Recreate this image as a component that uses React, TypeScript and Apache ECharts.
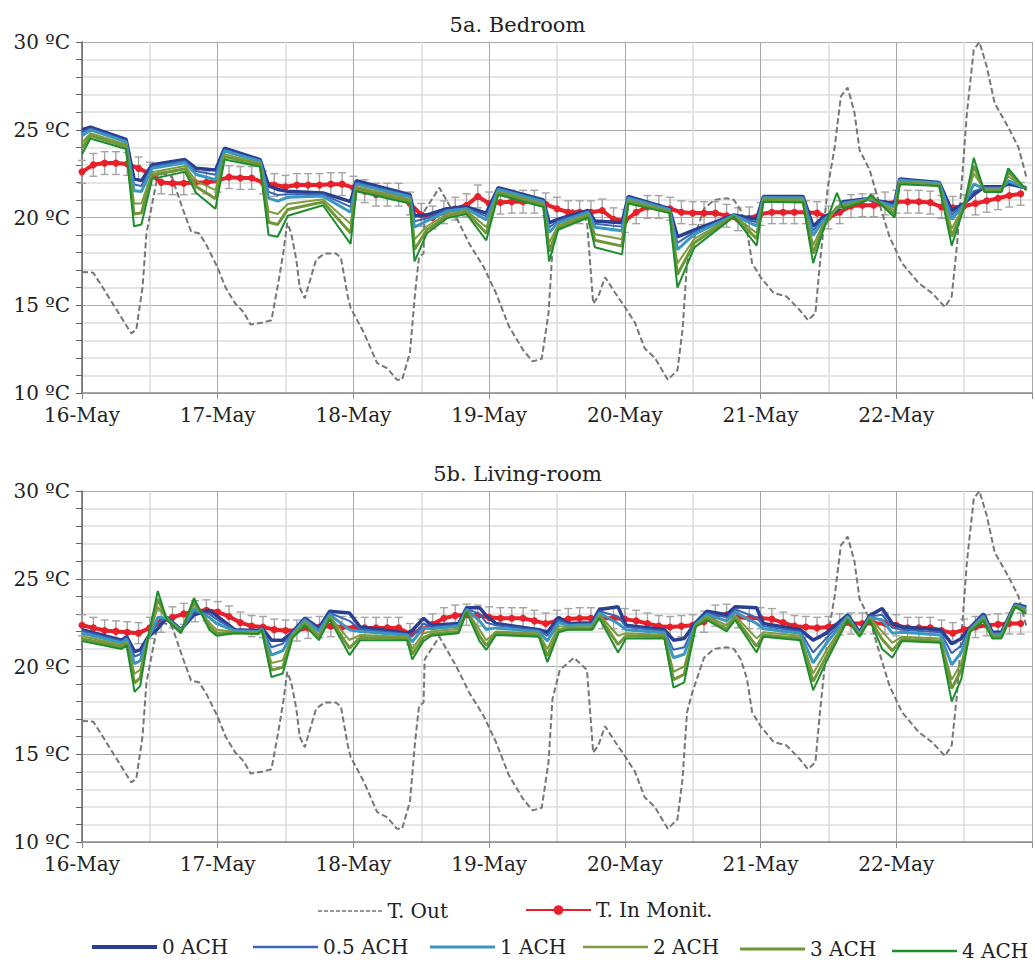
import React, { useEffect, useRef } from 'react';
import * as echarts from 'echarts';

const FONT = 'DejaVu Serif';

const DAY_LABELS = ['16-May', '17-May', '18-May', '19-May', '20-May', '21-May', '22-May'];
const ACH_NAMES = ['0 ACH', '0.5 ACH', '1 ACH', '2 ACH', '3 ACH', '4 ACH'];
const ACH_COLORS = ['#2b3f91', '#3c64b4', '#3a98c0', '#7e9c3e', '#6f9637', '#1f8c30'];
const ACH_WIDTHS = [3.5, 2, 3, 2, 3, 2];

// Outdoor temperature (hours from 16-May 00:00)
const TOUT_H = [0, 2, 3.2, 6, 8.7, 9.6, 10.7, 11.4, 13.5, 15.9, 17.8, 19.3, 20.7, 21.9, 23.9, 25.4, 27.1, 28.6, 29.8, 31.8, 33.5, 34.7, 35.6, 36.3, 37, 37.9, 38.5, 39.4, 41.4, 42.9, 44.9, 45.8, 47, 47.5, 49.9, 52.2, 54, 55.7, 56.6, 58, 58.9, 59.6, 60.4, 60.6, 63.2, 66.2, 68.5, 71, 73.2, 75.5, 78, 79.7, 81.3, 82.5, 83.2, 84.5, 87, 89.3, 90.4, 91.3, 92.5, 94.3, 96, 97.8, 99.5, 101.3, 103.6, 105.3, 106.2, 107, 107.9, 110, 111.8, 114, 115.3, 116.5, 117.6, 118.5, 120, 122.3, 124.6, 127, 128.4, 129.7, 130.5, 131.9, 133.1, 134.2, 135.4, 136.6, 137.5, 139.3, 141, 142.8, 145, 148, 150.3, 152.6, 153.8, 154.7, 155.6, 156.5, 157.7, 158.7, 160, 161.4, 163.8, 165.6, 167];
const TOUT_V = [16.9, 16.85, 16.25, 14.8, 13.4, 13.6, 16.0, 19.1, 22.6, 22.3, 20.5, 19.2, 19.1, 18.5, 17.2, 16.0, 15.1, 14.6, 13.9, 14.0, 14.15, 16.25, 18.0, 19.7, 19.1, 17.6, 16.0, 15.4, 17.6, 17.95, 17.95, 17.7, 15.5, 14.85, 13.4, 11.7, 11.4, 10.75, 10.75, 12.3, 15.7, 17.75, 17.95, 20.4, 21.7, 20.0, 18.5, 17.2, 15.7, 13.8, 12.45, 11.8, 11.95, 14.55, 18.15, 19.8, 20.5, 19.8, 15.1, 15.5, 16.6, 15.7, 14.9, 14.0, 12.55, 12.0, 10.75, 11.3, 13.6, 17.4, 18.5, 20.5, 21.0, 21.1, 21.0, 20.4, 19.3, 17.4, 16.6, 15.7, 15.5, 14.7, 14.15, 14.55, 17.4, 21.75, 24.0, 26.9, 27.4, 26.0, 23.85, 22.7, 20.8, 18.9, 17.4, 16.25, 15.7, 14.9, 15.5, 18.3, 22.1, 26.0, 29.55, 30.0, 28.6, 26.5, 25.15, 24.0, 22.3];

// Monitored indoor temperature, every 2 hours
const IN_H = Array.from({ length: 84 }, (_, i) => i * 2);
const BED_IN = [22.6, 23.0, 23.1, 23.1, 23.05, 22.8, 22.5, 22.0, 21.95, 21.95, 22.0, 22.0, 22.1, 22.3, 22.25, 22.25, 22.0, 21.85, 21.75, 21.85, 21.85, 21.85, 21.9, 21.9, 21.7, 21.5, 21.3, 21.3, 21.3, 20.8, 20.15, 20.0, 20.3, 20.5, 20.7, 21.2, 20.8, 20.85, 20.9, 20.9, 20.9, 20.75, 20.5, 20.3, 20.3, 20.3, 20.4, 19.9, 19.8, 20.3, 20.6, 20.6, 20.5, 20.3, 20.25, 20.25, 20.25, 20.1, 19.9, 19.95, 20.2, 20.3, 20.3, 20.3, 20.3, 20.25, 20.0, 20.3, 20.65, 20.7, 20.7, 20.8, 20.9, 20.9, 20.9, 20.85, 20.6, 20.55, 20.65, 20.8, 20.95, 21.1, 21.25, 21.35];
const LIV_IN = [22.35, 22.2, 22.05, 22.0, 21.95, 21.9, 22.2, 22.55, 22.8, 23.0, 23.15, 23.2, 23.1, 22.85, 22.5, 22.3, 22.25, 22.1, 22.05, 22.05, 22.2, 22.25, 22.3, 22.25, 22.2, 22.2, 22.2, 22.2, 22.2, 21.85, 22.1, 22.4, 22.75, 22.9, 22.95, 22.9, 22.8, 22.75, 22.75, 22.75, 22.6, 22.45, 22.6, 22.7, 22.75, 22.75, 22.75, 22.75, 22.7, 22.6, 22.45, 22.3, 22.25, 22.3, 22.35, 22.55, 22.9, 22.95, 22.8, 22.75, 22.75, 22.7, 22.5, 22.3, 22.25, 22.2, 22.25, 22.4, 22.45, 22.45, 22.45, 22.45, 22.35, 22.2, 22.2, 22.2, 22.05, 21.9, 22.1, 22.25, 22.35, 22.4, 22.45, 22.45];
const BED_SD = 0.65;
const LIV_SD = 0.6;

// Bedroom simulations
const BED_H = [0, 1.5, 7.8, 9.2, 10.5, 12.4, 18.2, 20.2, 23.6, 25.2, 31.5, 33.0, 34.6, 36.4, 42.6, 47.5, 48.5, 58.0, 58.8, 61.0, 64.5, 68.0, 71.5, 73.6, 81.6, 82.6, 84.2, 89.5, 90.7, 95.5, 96.6, 103.9, 105.3, 108.3, 115.3, 119.3, 120.5, 127.5, 129.3, 131.0, 133.5, 134.6, 138.6, 139.5, 143.7, 144.6, 151.6, 153.8, 156.0, 157.7, 159.6, 162.6, 163.8, 167];
const BED_ACH0 = [25.0, 25.15, 24.45, 22.2, 22.1, 23.0, 23.3, 22.8, 22.7, 23.95, 23.3, 21.8, 21.6, 21.5, 21.4, 20.9, 22.1, 21.3, 20.1, 20.15, 20.5, 20.6, 20.25, 21.7, 21.0, 19.7, 19.9, 20.4, 19.8, 19.7, 21.2, 20.5, 18.9, 19.3, 20.15, 19.9, 21.2, 21.2, 19.5, 20.0, 20.4, 20.9, 21.05, 21.0, 20.8, 22.2, 22.0, 20.4, 20.8, 21.3, 21.75, 21.75, 21.9, 21.7];
const BED_ACH05 = [24.85, 25.07, 24.38, 21.88, 21.8, 22.9, 23.22, 22.63, 22.44, 23.87, 23.25, 21.46, 21.28, 21.33, 21.32, 20.61, 22.0, 21.24, 19.79, 19.95, 20.42, 20.55, 20.06, 21.65, 20.95, 19.44, 19.8, 20.35, 19.65, 19.48, 21.15, 20.47, 18.55, 19.18, 20.13, 19.72, 21.16, 21.16, 19.25, 19.9, 20.45, 20.85, 21.03, 21.0, 20.7, 22.16, 21.98, 20.16, 20.78, 21.5, 21.7, 21.7, 22.0, 21.68];
const BED_ACH1 = [24.65, 24.99, 24.31, 21.53, 21.48, 22.8, 23.12, 22.45, 22.15, 23.79, 23.2, 21.1, 20.93, 21.15, 21.22, 20.3, 21.9, 21.18, 19.45, 19.8, 20.35, 20.5, 19.86, 21.6, 20.9, 19.15, 19.7, 20.3, 19.45, 19.25, 21.1, 20.44, 18.17, 19.05, 20.12, 19.52, 21.12, 21.11, 18.97, 19.8, 20.5, 20.8, 21.02, 21.05, 20.6, 22.12, 21.95, 19.9, 20.75, 21.9, 21.65, 21.65, 22.1, 21.65];
const BED_ACH2 = [24.25, 24.81, 24.16, 20.8, 20.8, 22.58, 22.94, 22.07, 21.56, 23.61, 23.09, 20.34, 20.2, 20.77, 21.04, 19.65, 21.75, 21.04, 18.75, 19.5, 20.2, 20.4, 19.44, 21.49, 20.79, 18.56, 19.55, 20.19, 19.05, 18.76, 20.99, 20.37, 17.39, 18.78, 20.1, 19.12, 21.04, 21.02, 18.41, 19.58, 20.55, 20.7, 21.0, 21.1, 20.4, 22.04, 21.9, 19.36, 20.7, 22.5, 21.6, 21.6, 22.35, 21.62];
const BED_ACH3 = [23.95, 24.67, 24.04, 20.2, 20.25, 22.41, 22.78, 21.76, 21.07, 23.47, 23.0, 19.73, 19.6, 20.46, 20.88, 19.12, 21.6, 20.93, 18.18, 19.3, 20.07, 20.3, 19.1, 21.4, 20.7, 18.07, 19.42, 20.1, 18.7, 18.37, 20.9, 20.31, 16.75, 18.56, 20.08, 18.79, 20.98, 20.94, 17.95, 19.41, 20.6, 20.6, 20.98, 21.2, 20.2, 21.97, 21.85, 18.92, 20.65, 22.95, 21.5, 21.5, 22.6, 21.58];
const BED_ACH4 = [23.6, 24.5, 23.9, 19.5, 19.6, 22.2, 22.6, 21.4, 20.5, 23.3, 22.9, 19.0, 18.9, 20.1, 20.7, 18.5, 21.5, 20.8, 17.5, 19.1, 19.95, 20.2, 18.7, 21.3, 20.6, 17.5, 19.3, 20.0, 18.3, 17.9, 20.8, 20.25, 16.0, 18.3, 20.05, 18.4, 20.9, 20.85, 17.4, 19.2, 21.4, 20.5, 20.95, 21.3, 20.0, 21.9, 21.8, 18.4, 20.6, 23.4, 21.45, 21.45, 22.8, 21.55];

// Living-room simulations
const LIV_H = [0, 7.0, 7.9, 9.3, 10.3, 11.6, 13.4, 15.0, 17.5, 19.8, 22.5, 23.8, 27.0, 31.2, 31.8, 33.5, 35.5, 37.2, 39.4, 41.9, 43.8, 47.3, 49.2, 57.5, 58.4, 60.4, 61.8, 66.6, 68.0, 70.3, 71.5, 73.2, 80.8, 82.3, 84.3, 86.0, 90.2, 91.5, 94.8, 96.2, 103.0, 104.6, 106.5, 108.5, 110.5, 114.0, 115.5, 119.3, 120.5, 127.0, 129.3, 131.6, 135.4, 137.5, 139.3, 141.5, 143.3, 145.0, 151.8, 153.8, 155.5, 157.0, 159.4, 161.0, 162.6, 165.0, 167];
const LIV_ACH0 = [22.1, 21.5, 21.7, 20.85, 20.95, 21.65, 22.15, 22.8, 22.1, 22.95, 23.2, 22.9, 22.1, 22.05, 22.2, 21.5, 21.5, 21.95, 22.75, 22.2, 23.15, 23.05, 22.25, 21.9, 22.05, 22.75, 22.35, 22.45, 23.35, 23.35, 22.9, 22.45, 22.1, 21.95, 22.8, 22.45, 22.5, 23.25, 23.4, 22.35, 22.1, 21.5, 21.6, 22.5, 23.15, 22.95, 23.4, 23.35, 22.45, 22.1, 21.5, 21.9, 22.95, 21.95, 22.9, 23.3, 22.45, 22.25, 22.1, 21.3, 21.6, 22.2, 23.0, 21.95, 21.95, 23.55, 23.4];
const LIV_ACH05 = [22.02, 21.44, 21.64, 20.57, 20.7, 21.6, 22.45, 22.8, 22.08, 23.1, 23.0, 22.7, 22.07, 22.02, 22.18, 21.1, 21.3, 21.9, 22.7, 22.1, 23.05, 22.6, 22.12, 21.85, 21.7, 22.45, 22.25, 22.38, 23.3, 23.0, 22.5, 22.35, 22.05, 21.75, 22.65, 22.4, 22.45, 23.15, 22.85, 22.25, 22.02, 20.95, 21.1, 22.45, 23.05, 22.8, 23.25, 22.8, 22.3, 22.0, 20.8, 21.6, 22.9, 21.9, 22.85, 22.95, 22.2, 22.1, 21.95, 20.75, 21.2, 22.15, 22.95, 21.9, 21.9, 23.5, 23.35];
const LIV_ACH1 = [21.9, 21.35, 21.55, 20.16, 20.33, 21.55, 22.8, 22.75, 22.04, 23.3, 22.8, 22.45, 22.03, 21.99, 22.16, 20.65, 20.9, 21.85, 22.65, 22.0, 22.95, 22.1, 22.0, 21.78, 21.4, 22.2, 22.15, 22.3, 23.25, 22.6, 22.1, 22.2, 21.98, 21.45, 22.5, 22.32, 22.38, 23.05, 22.45, 22.1, 21.92, 20.5, 20.7, 22.4, 22.95, 22.6, 23.1, 22.45, 22.15, 21.9, 20.2, 21.3, 22.85, 21.85, 22.8, 22.65, 21.9, 21.95, 21.8, 20.1, 20.8, 22.1, 22.85, 21.82, 21.85, 23.5, 23.3];
const LIV_ACH2 = [21.74, 21.22, 21.42, 19.59, 19.82, 21.55, 23.4, 22.7, 22.0, 23.55, 22.5, 22.1, 21.98, 21.95, 22.13, 20.2, 20.35, 21.8, 22.55, 21.8, 22.85, 21.5, 21.8, 21.68, 21.0, 21.9, 22.0, 22.15, 23.2, 22.1, 21.5, 22.0, 21.88, 21.0, 22.3, 22.22, 22.25, 22.95, 21.75, 21.9, 21.8, 19.7, 20.0, 22.35, 22.85, 22.35, 22.9, 21.6, 21.95, 21.75, 19.6, 20.9, 22.78, 21.8, 22.75, 22.0, 21.35, 21.7, 21.6, 19.25, 20.2, 22.05, 22.75, 21.75, 21.75, 23.45, 23.2];
const LIV_ACH3 = [21.59, 21.11, 21.31, 19.06, 19.35, 21.5, 23.85, 22.7, 21.95, 23.75, 22.3, 21.9, 21.94, 21.9, 22.1, 19.8, 19.95, 21.7, 22.45, 21.65, 22.75, 21.05, 21.65, 21.6, 20.7, 21.65, 21.85, 22.0, 23.15, 21.75, 21.2, 21.9, 21.78, 20.6, 22.1, 22.15, 22.15, 22.85, 21.25, 21.75, 21.7, 19.25, 19.55, 22.3, 22.75, 22.15, 22.75, 21.15, 21.8, 21.6, 19.15, 20.55, 22.7, 21.75, 22.7, 21.55, 20.9, 21.55, 21.45, 18.75, 19.8, 22.0, 22.65, 21.68, 21.68, 23.45, 23.1];
const LIV_ACH4 = [21.45, 21.0, 21.2, 18.55, 18.9, 21.5, 24.3, 22.65, 21.9, 23.9, 22.1, 21.75, 21.9, 21.85, 22.08, 19.4, 19.6, 21.6, 22.35, 21.5, 22.7, 20.65, 21.5, 21.5, 20.4, 21.45, 21.75, 21.9, 23.1, 21.45, 20.95, 21.8, 21.7, 20.25, 21.95, 22.1, 22.1, 22.75, 20.8, 21.6, 21.6, 18.8, 19.1, 22.25, 22.65, 22.0, 22.65, 20.8, 21.7, 21.5, 18.65, 20.25, 22.65, 21.7, 22.65, 21.0, 20.5, 21.45, 21.35, 18.0, 19.3, 21.95, 22.6, 21.6, 21.6, 23.4, 23.0];

const BED_ACH = [BED_ACH0, BED_ACH05, BED_ACH1, BED_ACH2, BED_ACH3, BED_ACH4];
const LIV_ACH = [LIV_ACH0, LIV_ACH05, LIV_ACH1, LIV_ACH2, LIV_ACH3, LIV_ACH4];

const zip = (h: number[], v: number[]) => {
  const n = Math.min(h.length, v.length);
  const out: number[][] = [];
  for (let i = 0; i < n; i++) out.push([h[i], v[i]]);
  return out;
};

const TXT = { fontFamily: FONT, fontSize: 20, color: '#222' };

function gridSeries(gi: number, achH: number[], ach: number[][], tin: number[], sd: number) {
  const list: any[] = [];
  list.push({
    type: 'custom',
    name: 'err' + gi,
    xAxisIndex: gi,
    yAxisIndex: gi,
    silent: true,
    z: 1,
    data: tin.map((v, i) => [IN_H[i], v - sd, v + sd]),
    encode: { x: 0, y: [1, 2] },
    renderItem: (_p: any, api: any) => {
      const x = api.value(0);
      const top = api.coord([x, api.value(2)]);
      const bot = api.coord([x, api.value(1)]);
      const c = 4;
      const style = { stroke: '#a4a4a4', lineWidth: 1.4 };
      return {
        type: 'group',
        children: [
          { type: 'line', shape: { x1: top[0], y1: top[1], x2: bot[0], y2: bot[1] }, style },
          { type: 'line', shape: { x1: top[0] - c, y1: top[1], x2: top[0] + c, y2: top[1] }, style },
          { type: 'line', shape: { x1: bot[0] - c, y1: bot[1], x2: bot[0] + c, y2: bot[1] }, style },
        ],
      };
    },
  });
  list.push({
    type: 'line',
    name: 'T. Out',
    xAxisIndex: gi,
    yAxisIndex: gi,
    z: 2,
    data: zip(TOUT_H, TOUT_V),
    symbol: 'none',
    lineStyle: { color: '#777777', width: 2, type: [6, 3] },
    itemStyle: { color: '#777777' },
  });
  list.push({
    type: 'line',
    name: 'T. In Monit.',
    xAxisIndex: gi,
    yAxisIndex: gi,
    z: 3,
    data: zip(IN_H, tin),
    symbol: 'circle',
    symbolSize: 7,
    showSymbol: true,
    lineStyle: { color: '#e8202a', width: 4 },
    itemStyle: { color: '#e8202a' },
  });
  ach.forEach((vals, k) => {
    list.push({
      type: 'line',
      name: ACH_NAMES[k],
      xAxisIndex: gi,
      yAxisIndex: gi,
      z: 4,
      data: zip(achH, vals),
      symbol: 'none',
      lineStyle: { color: ACH_COLORS[k], width: ACH_WIDTHS[k] },
      itemStyle: { color: ACH_COLORS[k] },
    });
  });
  return list;
}

function xAxis(gi: number) {
  return {
    gridIndex: gi,
    type: 'value',
    min: 0,
    max: 168,
    interval: 24,
    axisLine: { show: true, onZero: false, lineStyle: { color: '#8c8c8c', width: 1.5 } },
    axisTick: { show: true, length: 6, lineStyle: { color: '#8c8c8c' } },
    axisLabel: {
      ...TXT,
      margin: 12,
      formatter: (v: number) => {
        const d = v / 24;
        return Number.isInteger(d) && d < DAY_LABELS.length ? DAY_LABELS[d] : '';
      },
    },
    splitLine: { show: true, lineStyle: { color: '#a8a8a8', width: 1 } },
    minorTick: { show: false, splitNumber: 2 },
    minorSplitLine: { show: true, lineStyle: { color: '#dcdcdc', width: 1.5 } },
  };
}

function yAxis(gi: number) {
  return {
    gridIndex: gi,
    type: 'value',
    min: 10,
    max: 30,
    interval: 5,
    axisLine: { show: true, lineStyle: { color: '#666', width: 1.5 } },
    axisTick: { show: true, length: 6, lineStyle: { color: '#666' } },
    minorTick: { show: true, splitNumber: 5, length: 6, lineStyle: { color: '#666' } },
    splitLine: { show: true, lineStyle: { color: '#a8a8a8', width: 1 } },
    minorSplitLine: { show: true, lineStyle: { color: '#dcdcdc', width: 1.5 } },
    axisLabel: { ...TXT, margin: 12, formatter: (v: number) => `${v} ºC` },
  };
}

// dashed legend glyph for T. Out (65 x 1.5)
const DASH_ICON = 'path://' + Array.from({ length: 11 }, (_, i) => `M${i * 6},0h4v1.5h-4z`).join(' ');

const LEGEND_ITEMS = [
  { name: 'T. Out', left: 318, top: 901, icon: DASH_ICON, h: 1.5 },
  { name: 'T. In Monit.', left: 525, top: 900, icon: '', h: 12 },
  { name: '0 ACH', left: 92, top: 937, icon: 'rect', h: 4 },
  { name: '0.5 ACH', left: 253, top: 937, icon: 'rect', h: 2.5 },
  { name: '1 ACH', left: 430, top: 937, icon: 'rect', h: 3 },
  { name: '2 ACH', left: 583, top: 937, icon: 'rect', h: 2.5 },
  { name: '3 ACH', left: 740, top: 939, icon: 'rect', h: 3 },
  { name: '4 ACH', left: 892, top: 941, icon: 'rect', h: 2.5 },
];

export default function App() {
  const ref = useRef<HTMLDivElement>(null);
  useEffect(() => {
    if (!ref.current) return;
    const chart = echarts.init(ref.current, undefined, { renderer: 'svg' });
    chart.setOption({
      animation: false,
      backgroundColor: '#ffffff',
      title: [
        { text: '5a. Bedroom', left: 'center', top: 9, textStyle: { ...TXT, fontSize: 21, fontWeight: 'normal' } },
        { text: '5b. Living-room', left: 'center', top: 458, textStyle: { ...TXT, fontSize: 21, fontWeight: 'normal' } },
      ],
      legend: LEGEND_ITEMS.map((it) => {
        const l: any = {
          data: [it.name],
          left: it.left,
          top: it.top,
          padding: 0,
          itemWidth: 65,
          itemHeight: it.h,
          itemGap: 0,
          selectedMode: false,
          textStyle: { ...TXT },
        };
        if (it.icon) l.icon = it.icon;
        return l;
      }),
      grid: [
        { left: 82, top: 42, width: 958, height: 351 },
        { left: 82, top: 491, width: 958, height: 351 },
      ],
      xAxis: [xAxis(0), xAxis(1)],
      yAxis: [yAxis(0), yAxis(1)],
      series: [
        ...gridSeries(0, BED_H, BED_ACH, BED_IN, BED_SD),
        ...gridSeries(1, LIV_H, LIV_ACH, LIV_IN, LIV_SD),
      ],
    });
    return () => chart.dispose();
  }, []);
  return (
    <div
      ref={ref}
      style={{ position: 'absolute', left: 0, top: 0, width: 1035, height: 963, background: '#fff' }}
    />
  );
}
